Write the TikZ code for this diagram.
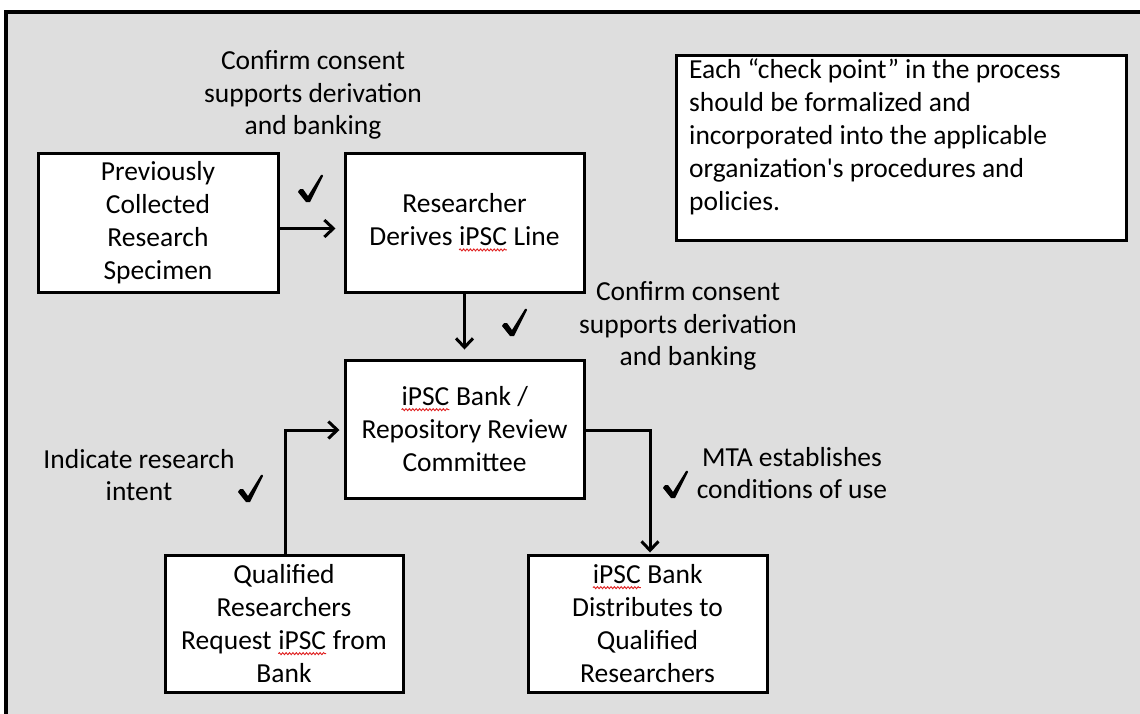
\documentclass[tikz,border=0pt]{standalone}
\usepackage{fontspec}
\setmainfont{Carlito}
\usetikzlibrary{arrows.meta,decorations.pathmorphing}

\definecolor{panelgray}{HTML}{DEDEDE}
\definecolor{spellred}{HTML}{E02020}

% word with a red wavy underline
\newcommand\wavy[1]{\tikz[baseline=(w.base)]{%
  \node[inner sep=0pt,outer sep=0pt,draw=none,fill=none,minimum width=0pt,minimum height=0pt] (w) {#1};%
  \draw[spellred,line width=0.9pt,decorate,decoration={snake,amplitude=1pt,segment length=3.4pt}]
    ([yshift=-4pt]w.south west) -- ([yshift=-4pt]w.south east);}}

\tikzset{
  stepbox/.style={draw=black,line width=3pt,fill=white,align=center,
    font=\fontsize{27.5}{33}\selectfont,inner sep=2pt},
  lbl/.style={align=center,font=\fontsize{27.5}{32.5}\selectfont,inner sep=0pt},
  arr/.style={line width=3pt,-{Straight Barb[length=9pt,width=17pt]}},
  % calligraphic check mark, drawn as a filled outline (y axis points down)
  tick/.pic={
    \fill[black] (-12,4) .. controls (-11,1) and (-8,0) .. (-7,1)
      -- (-2,8) -- (11,-13) .. controls (12,-14) and (13.5,-13) .. (13,-12)
      -- (0,14) -- (-4,14) -- cycle;
  },
}

\begin{document}
\begin{tikzpicture}[x=1pt,y=-1pt]
\useasboundingbox (0,0) rectangle (1140,713);
\clip (0,0) rectangle (1140,713);
\fill[white] (0,0) rectangle (1140,713);
\draw[line width=3.5pt,fill=panelgray] (6,12) rectangle (1180,760);

% process boxes
\node[stepbox,minimum width=240pt,minimum height=139pt] (spec) at (158,222.5)
  {Previously\\Collected\\Research\\Specimen};
\node[stepbox,minimum width=239pt,minimum height=139pt] (derive) at (464.5,222.5)
  {Researcher\\Derives \wavy{iPSC} Line};
\node[stepbox,minimum width=239pt,minimum height=138pt] (review) at (464.5,429)
  {\wavy{iPSC} Bank /\\Repository Review\\Committee};
\node[stepbox,minimum width=238pt,minimum height=137pt] (request) at (284,623.5)
  {Qualified\\Researchers\\Request \wavy{iPSC} from\\Bank};
\node[stepbox,minimum width=239pt,minimum height=137pt] (distrib) at (647.5,623.5)
  {\wavy{iPSC} Bank\\Distributes to\\Qualified\\Researchers};

% note box
\node[draw=black,line width=3pt,fill=white,minimum width=450pt,minimum height=185pt] (note) at (901,147.5) {};
\node[anchor=north west,align=left,inner sep=0pt,font=\fontsize{27.5}{33}\selectfont] (notetext) at (689,58)
  {Each “check point” in the process\\should be formalized and\\incorporated into the applicable\\organization\textquotesingle s procedures and\\policies.};

% connectors
\draw[arr,shorten >=8pt] ([yshift=-6pt]spec.east) -- ([yshift=-6pt]derive.west);
\draw[arr,shorten >=9pt] (derive.south) -- (review.north);
\coordinate (turnL) at (285,430);
\coordinate (turnR) at (650,430);
\draw[arr,shorten >=4pt] (request.north -| turnL) -- (turnL) -- (review.west |- turnL);
\draw[arr,shorten >=1pt] (review.east |- turnR) -- (turnR) -- (distrib.north -| turnR);

% labels
\node[lbl] (lab1) at (313,95) {Confirm consent\\supports derivation\\and banking};
\node[lbl] (lab2) at (688,326) {Confirm consent\\supports derivation\\and banking};
\node[lbl] (lab3) at (139,475) {Indicate research\\intent};
\node[lbl] (lab4) at (792,473) {MTA establishes\\conditions of use};

% check marks
\pic at (310,188) {tick};
\pic at (514,322) {tick};
\pic at (250,488) {tick};
\pic at (675,484) {tick};
\end{tikzpicture}
\end{document}
